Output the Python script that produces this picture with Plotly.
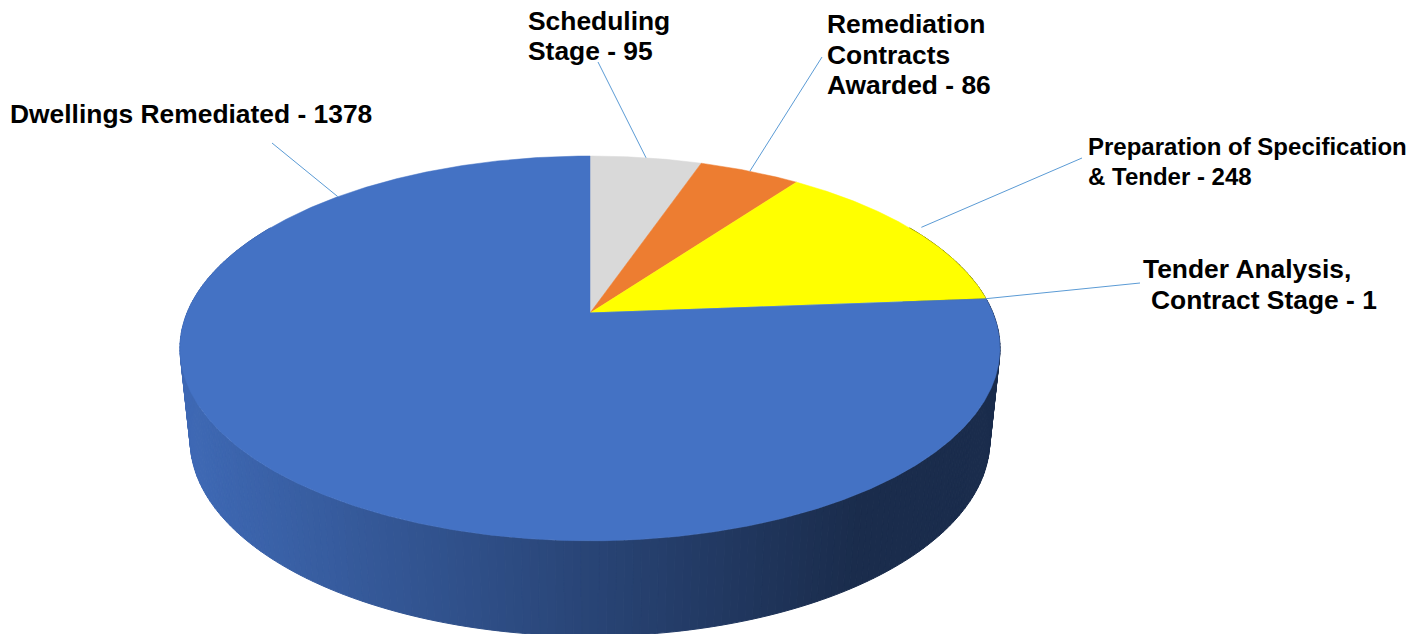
import numpy as np
import plotly.graph_objects as go

# ---------------- data ----------------
categories = [
    "Scheduling Stage",
    "Remediation Contracts Awarded",
    "Preparation of Specification & Tender",
    "Tender Analysis, Contract Stage",
    "Dwellings Remediated",
]
values = [95, 86, 248, 1, 1378]
label_lines = [
    ["Scheduling", "Stage"],
    ["Remediation", "Contracts", "Awarded"],
    ["Preparation of Specification", "& Tender"],
    ["Tender Analysis,", "Contract Stage"],
    ["Dwellings Remediated"],
]
slice_colors = ["#D9D9D9", "#ED7D31", "#FFFF00", "#5B9BD5", "#4472C4"]

# ---------------- style / layout params ----------------
W, H = 1423, 634
# perspective projection of the top and bottom discs (pixel space)
TOP = dict(cx=590.0, cy=313.0, A=403.0, B=185.9, k=0.184)
BOT = dict(cx=590.0, cy=404.0, A=393.0, B=189.4, k=0.184)

# per label: left x of each line, y of each line, font size, leader end (label side),
# leader angle override, radius factor
label_pos = [
    dict(xs=[526, 526], ys=[21, 51], size=26.4, lx=598, ly=62, ang=None, r=1.0),
    dict(xs=[825, 825, 825], ys=[24, 55, 85], size=26.4, lx=822, ly=57, ang=None, r=1.0),
    dict(xs=[1086, 1086], ys=[146.5, 176], size=24, lx=1082, ly=158, ang=None, r=1.03),
    dict(xs=[1141, 1149], ys=[269, 300], size=26.4, lx=1140, ly=283, ang=None, r=1.0),
    dict(xs=[8], ys=[114], size=26.4, lx=272, ly=143, ang=315.0, r=1.0),
]
leader_color = "#5B9BD5"
FONT = "Liberation Sans, Arial, sans-serif"


def proj(a_deg, P, r=1.0):
    a = np.radians(a_deg)
    u = r * np.sin(a)
    v = r * np.cos(a)
    w = 1 + P["k"] * v
    return P["cx"] + P["A"] * u / w, P["cy"] - P["B"] * v / w


def hex2rgb(h):
    h = h.lstrip("#")
    return tuple(int(h[i:i + 2], 16) for i in (0, 2, 4))


def shade(hexcol, x):
    # horizontal lighting gradient of the side wall
    t = np.clip((x - 190.0) / (860.0 - 190.0), 0, 1)
    f = 0.92 - 0.53 * t
    r, g, b = hex2rgb(hexcol)
    return f"rgb({int(r*f)},{int(g*f)},{int(b*f)})"


total = float(sum(values))
ends = np.cumsum(values) / total * 360.0
starts = np.concatenate([[0.0], ends[:-1]])


def color_at(a):
    a = a % 360.0
    for s, e, c in zip(starts, ends, slice_colors):
        if s <= a < e:
            return c
    return slice_colors[-1]


fig = go.Figure()

# ---- side wall strips (back to front) ----
strip_angles = np.arange(60.0, 300.0, 1.0)
order = sorted(strip_angles, key=lambda a: -np.cos(np.radians(a + 0.5)))
for a0 in order:
    a1 = a0 + 1.0
    tx0, ty0 = proj(a0, TOP)
    tx1, ty1 = proj(a1, TOP)
    bx0, by0 = proj(a0, BOT)
    bx1, by1 = proj(a1, BOT)
    xm = (tx0 + tx1) / 2
    col = shade(color_at(a0 + 0.5), xm)
    fig.add_trace(go.Scatter(
        x=[tx0, tx1, bx1, bx0, tx0], y=[ty0, ty1, by1, by0, ty0],
        mode="lines", fill="toself", fillcolor=col,
        line=dict(color=col, width=1), hoverinfo="skip", showlegend=False))

# ---- top face slices ----
for s, e, c, name in zip(starts, ends, slice_colors, categories):
    n = max(2, int((e - s) / 0.25) + 2)
    aa = np.linspace(s, e, n)
    xs, ys = proj(aa, TOP)
    px = np.concatenate([[TOP["cx"]], xs, [TOP["cx"]]])
    py = np.concatenate([[TOP["cy"]], ys, [TOP["cy"]]])
    fig.add_trace(go.Scatter(
        x=px, y=py, mode="lines", fill="toself", fillcolor=c,
        line=dict(color=c, width=0.5), name=name, hoverinfo="name",
        showlegend=False))

# ---- leader lines and labels ----
for i, (s, e) in enumerate(zip(starts, ends)):
    lp = label_pos[i]
    ang = lp["ang"] if lp["ang"] is not None else (s + e) / 2
    px, py = proj(ang, TOP, lp["r"])
    fig.add_trace(go.Scatter(
        x=[lp["lx"], px], y=[lp["ly"], py], mode="lines",
        line=dict(color=leader_color, width=1), hoverinfo="skip",
        showlegend=False))
    lines = list(label_lines[i])
    lines[-1] = f"{lines[-1]} - {values[i]}"
    for txt, lx, ly in zip(lines, lp["xs"], lp["ys"]):
        fig.add_annotation(
            x=lx, y=ly, xref="x", yref="y", xanchor="left",
            yanchor="middle", align="left", showarrow=False, text=txt,
            font=dict(family=FONT, size=lp["size"], color="#000000",
                      weight="bold"))

fig.update_layout(
    width=W, height=H, autosize=False,
    margin=dict(l=0, r=0, t=0, b=0),
    paper_bgcolor="white", plot_bgcolor="white",
    xaxis=dict(range=[0, W], visible=False, fixedrange=True),
    yaxis=dict(range=[H, 0], visible=False, fixedrange=True),
)

fig.write_html("out.html", include_plotlyjs=True,
               config={"displayModeBar": False},
               post_script="document.body.style.margin='0';")
